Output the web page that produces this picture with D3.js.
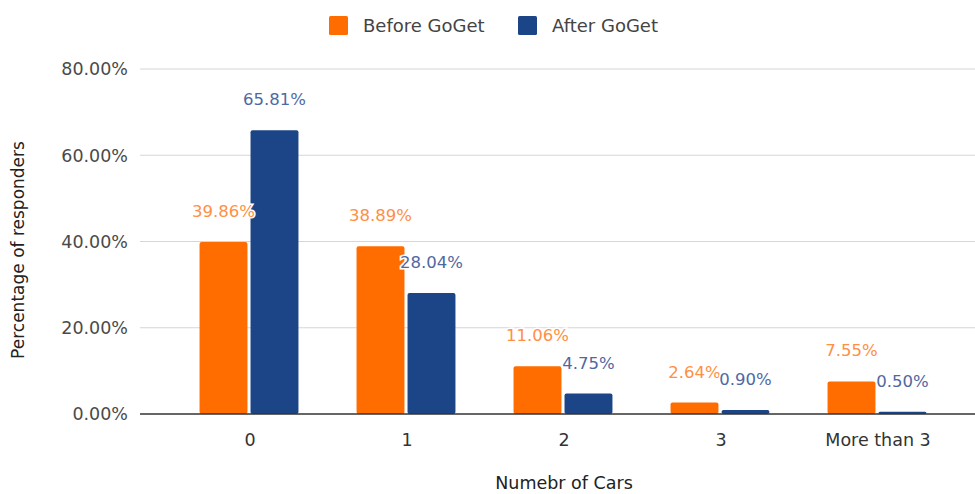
<!DOCTYPE html>
<html><head><meta charset="utf-8">
<script src="https://cdn.jsdelivr.net/npm/d3@7"></script>
<style>body{margin:0;background:#fff}svg{display:block}text{font-family:"DejaVu Sans",sans-serif}</style>
</head><body><svg id="c" width="975" height="494"></svg>
<script>
const categories = ["0", "1", "2", "3", "More than 3"];
const seriesNames = ["Before GoGet", "After GoGet"];
const beforeValues = [39.86, 38.89, 11.06, 2.64, 7.55];
const afterValues = [65.81, 28.04, 4.75, 0.90, 0.50];
const yTicks = [0, 20, 40, 60, 80];
const seriesColors = ["#ff6d01", "#1c4587"];
const labelColors = ["#ff8f45", "#4f68a3"];

const svg = d3.select("#c");
const gridLeft = 140, gridRight = 975;
const x0 = d3.scaleBand().domain(categories).range([170.5, 955.5]).paddingInner(0.37).paddingOuter(0.185);
const x1 = d3.scaleBand().domain(seriesNames).range([0, x0.bandwidth()]).paddingInner(0.06);
const y = d3.scaleLinear().domain([0, 80]).range([414, 69]);

// gridlines
svg.append("g").selectAll("line").data(yTicks.filter(d => d !== 0)).join("line")
  .attr("x1", gridLeft).attr("x2", gridRight)
  .attr("y1", d => y(d)).attr("y2", d => y(d))
  .attr("stroke", "#d6d6d6").attr("stroke-width", 1.2);

// y tick labels
svg.append("g").selectAll("text").data(yTicks).join("text")
  .attr("x", 128).attr("y", d => y(d)).attr("dy", "0.36em")
  .attr("text-anchor", "end").attr("font-size", 17.5).attr("fill", "#4a4a4a")
  .text(d => d.toFixed(2) + "%");

const rows = categories.map((c, i) => ({c, vals: [beforeValues[i], afterValues[i]]}));

const groups = svg.append("g").selectAll("g").data(rows).join("g")
  .attr("transform", d => `translate(${x0(d.c)},0)`);

groups.selectAll("rect").data(d => d.vals.map((v, k) => ({v, k}))).join("rect")
  .attr("x", d => x1(seriesNames[d.k])).attr("width", x1.bandwidth())
  .attr("y", d => y(d.v)).attr("height", d => y(0) - y(d.v))
  .attr("rx", 2).attr("fill", d => seriesColors[d.k]);

// baseline
svg.append("line").attr("x1", gridLeft).attr("x2", gridRight)
  .attr("y1", y(0)).attr("y2", y(0)).attr("stroke", "#333").attr("stroke-width", 1.5);

// data labels
groups.selectAll("text").data(d => d.vals.map((v, k) => ({v, k}))).join("text")
  .attr("x", d => x1(seriesNames[d.k]) + x1.bandwidth() / 2)
  .attr("y", d => y(d.v) - 25)
  .attr("text-anchor", "middle").attr("font-size", 16.5)
  .attr("fill", d => labelColors[d.k])
  .attr("stroke", "#fff").attr("stroke-width", 3).attr("paint-order", "stroke")
  .text(d => d.v.toFixed(2) + "%");

// x tick labels
svg.append("g").selectAll("text").data(categories).join("text")
  .attr("x", d => x0(d) + x0.bandwidth() / 2 + 1).attr("y", 440).attr("dy", "0.36em")
  .attr("text-anchor", "middle").attr("font-size", 17.5).attr("fill", "#333")
  .text(d => d);

// axis titles
svg.append("text").attr("x", 564).attr("y", 483).attr("dy", "0.36em")
  .attr("text-anchor", "middle").attr("font-size", 17.5).attr("fill", "#222")
  .text("Numebr of Cars");
svg.append("text").attr("transform", "translate(18,250) rotate(-90)").attr("dy", "0.36em")
  .attr("text-anchor", "middle").attr("font-size", 17).attr("fill", "#222")
  .text("Percentage of responders");

// legend
const legendX = [329, 518];
const lg = svg.append("g").selectAll("g").data(seriesNames).join("g")
  .attr("transform", (d, i) => `translate(${legendX[i]},16)`);
lg.append("rect").attr("width", 19).attr("height", 19).attr("rx", 1.5).attr("fill", (d, i) => seriesColors[i]);
lg.append("text").attr("x", 34).attr("y", 9.5).attr("dy", "0.36em")
  .attr("font-size", 18).attr("fill", "#444").text(d => d);
</script></body></html>
